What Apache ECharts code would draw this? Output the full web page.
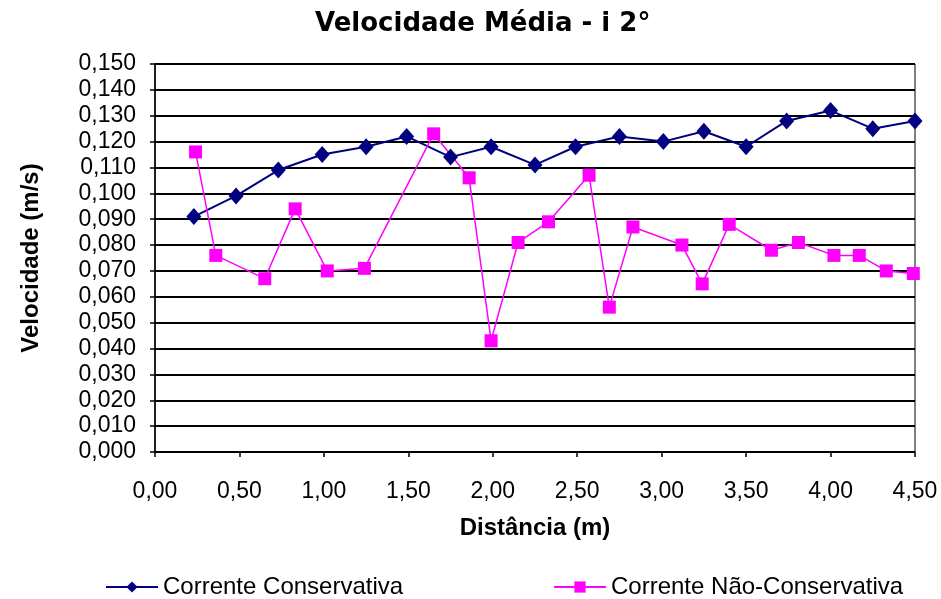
<!DOCTYPE html>
<html>
<head>
<meta charset="utf-8">
<script src="https://cdn.jsdelivr.net/npm/echarts@6/dist/echarts.min.js"></script>
<style>
html,body{margin:0;padding:0;background:#fff;}
#chart{width:941px;height:599px;}
</style>
</head>
<body>
<div id="chart"></div>
<script>
var titleText = 'Velocidade Média - i 2°';
var xName = 'Distância (m)';
var yName = 'Velocidade (m/s)';
var seriesNames = ['Corrente Conservativa', 'Corrente Não-Conservativa'];

var xConservativa = [0.23, 0.48, 0.73, 0.99, 1.25, 1.49, 1.75, 1.99, 2.25, 2.49, 2.75, 3.01, 3.25, 3.50, 3.74, 4.00, 4.25, 4.50];
var yConservativa = [0.091, 0.099, 0.109, 0.115, 0.118, 0.122, 0.114, 0.118, 0.111, 0.118, 0.122, 0.120, 0.124, 0.118, 0.128, 0.132, 0.125, 0.128];

var xNaoConservativa = [0.24, 0.36, 0.65, 0.83, 1.02, 1.24, 1.65, 1.86, 1.99, 2.15, 2.33, 2.57, 2.69, 2.83, 3.12, 3.24, 3.40, 3.65, 3.81, 4.02, 4.17, 4.33, 4.49];
var yNaoConservativa = [0.116, 0.076, 0.067, 0.094, 0.070, 0.071, 0.123, 0.106, 0.043, 0.081, 0.089, 0.107, 0.056, 0.087, 0.080, 0.065, 0.088, 0.078, 0.081, 0.076, 0.076, 0.070, 0.069];

function pairs(xs, ys){ return xs.map(function(x,i){ return [x, ys[i]]; }); }

var FONT = 'Liberation Sans';
var chart = echarts.init(document.getElementById('chart'), null, {renderer:'canvas'});
chart.setOption({
  backgroundColor:'#fff',
  animation:false,
  title:{
    text:titleText, left:310, top:6,
    textStyle:{fontFamily:'DejaVu Sans', fontWeight:'bold', fontSize:26, color:'#000'}
  },
  grid:{left:155, right:26, top:64, bottom:147, show:true, borderColor:'#000', borderWidth:1},
  xAxis:{
    type:'value', min:0, max:4.5, interval:0.5,
    name:xName, nameLocation:'middle', nameGap:64,
    nameTextStyle:{fontFamily:FONT, fontWeight:'bold', fontSize:24, color:'#000'},
    axisLine:{show:true, lineStyle:{color:'#000', width:1.5}},
    axisTick:{show:true, inside:false, length:5, lineStyle:{color:'#000', width:1.5}},
    axisLabel:{margin:28, fontFamily:FONT, fontSize:23, color:'#000',
      formatter:function(v){ return v.toFixed(2).replace('.', ','); }},
    splitLine:{show:false}
  },
  yAxis:{
    type:'value', min:0, max:0.15, interval:0.01,
    name:yName, nameLocation:'middle', nameGap:112, nameRotate:90,
    nameTextStyle:{fontFamily:FONT, fontWeight:'bold', fontSize:24, color:'#000'},
    axisLine:{show:true, lineStyle:{color:'#000', width:1.5}},
    axisTick:{show:true, inside:false, length:5, lineStyle:{color:'#000', width:1.5}},
    axisLabel:{margin:19, fontFamily:FONT, fontSize:23, color:'#000',
      formatter:function(v){ return v.toFixed(3).replace('.', ','); }},
    splitLine:{show:true, lineStyle:{color:'#000', width:1.8}}
  },
  legend:[
    {data:[seriesNames[0]], left:100, top:570, itemWidth:52, itemHeight:14, itemGap:10,
     textStyle:{fontFamily:FONT, fontSize:24, color:'#000'}},
    {data:[seriesNames[1]], left:548, top:570, itemWidth:52, itemHeight:14, itemGap:10,
     textStyle:{fontFamily:FONT, fontSize:24, color:'#000'}}
  ],
  series:[
    {name:seriesNames[0], type:'line', data:pairs(xConservativa, yConservativa),
     symbol:'diamond', symbolSize:[15,17], showAllSymbol:true,
     itemStyle:{color:'#000080'}, lineStyle:{color:'#000080', width:2}},
    {name:seriesNames[1], type:'line', data:pairs(xNaoConservativa, yNaoConservativa),
     symbol:'rect', symbolSize:13, showAllSymbol:true,
     itemStyle:{color:'#FF00FF'}, lineStyle:{color:'#FF00FF', width:1.5}}
  ]
});
</script>
</body>
</html>
